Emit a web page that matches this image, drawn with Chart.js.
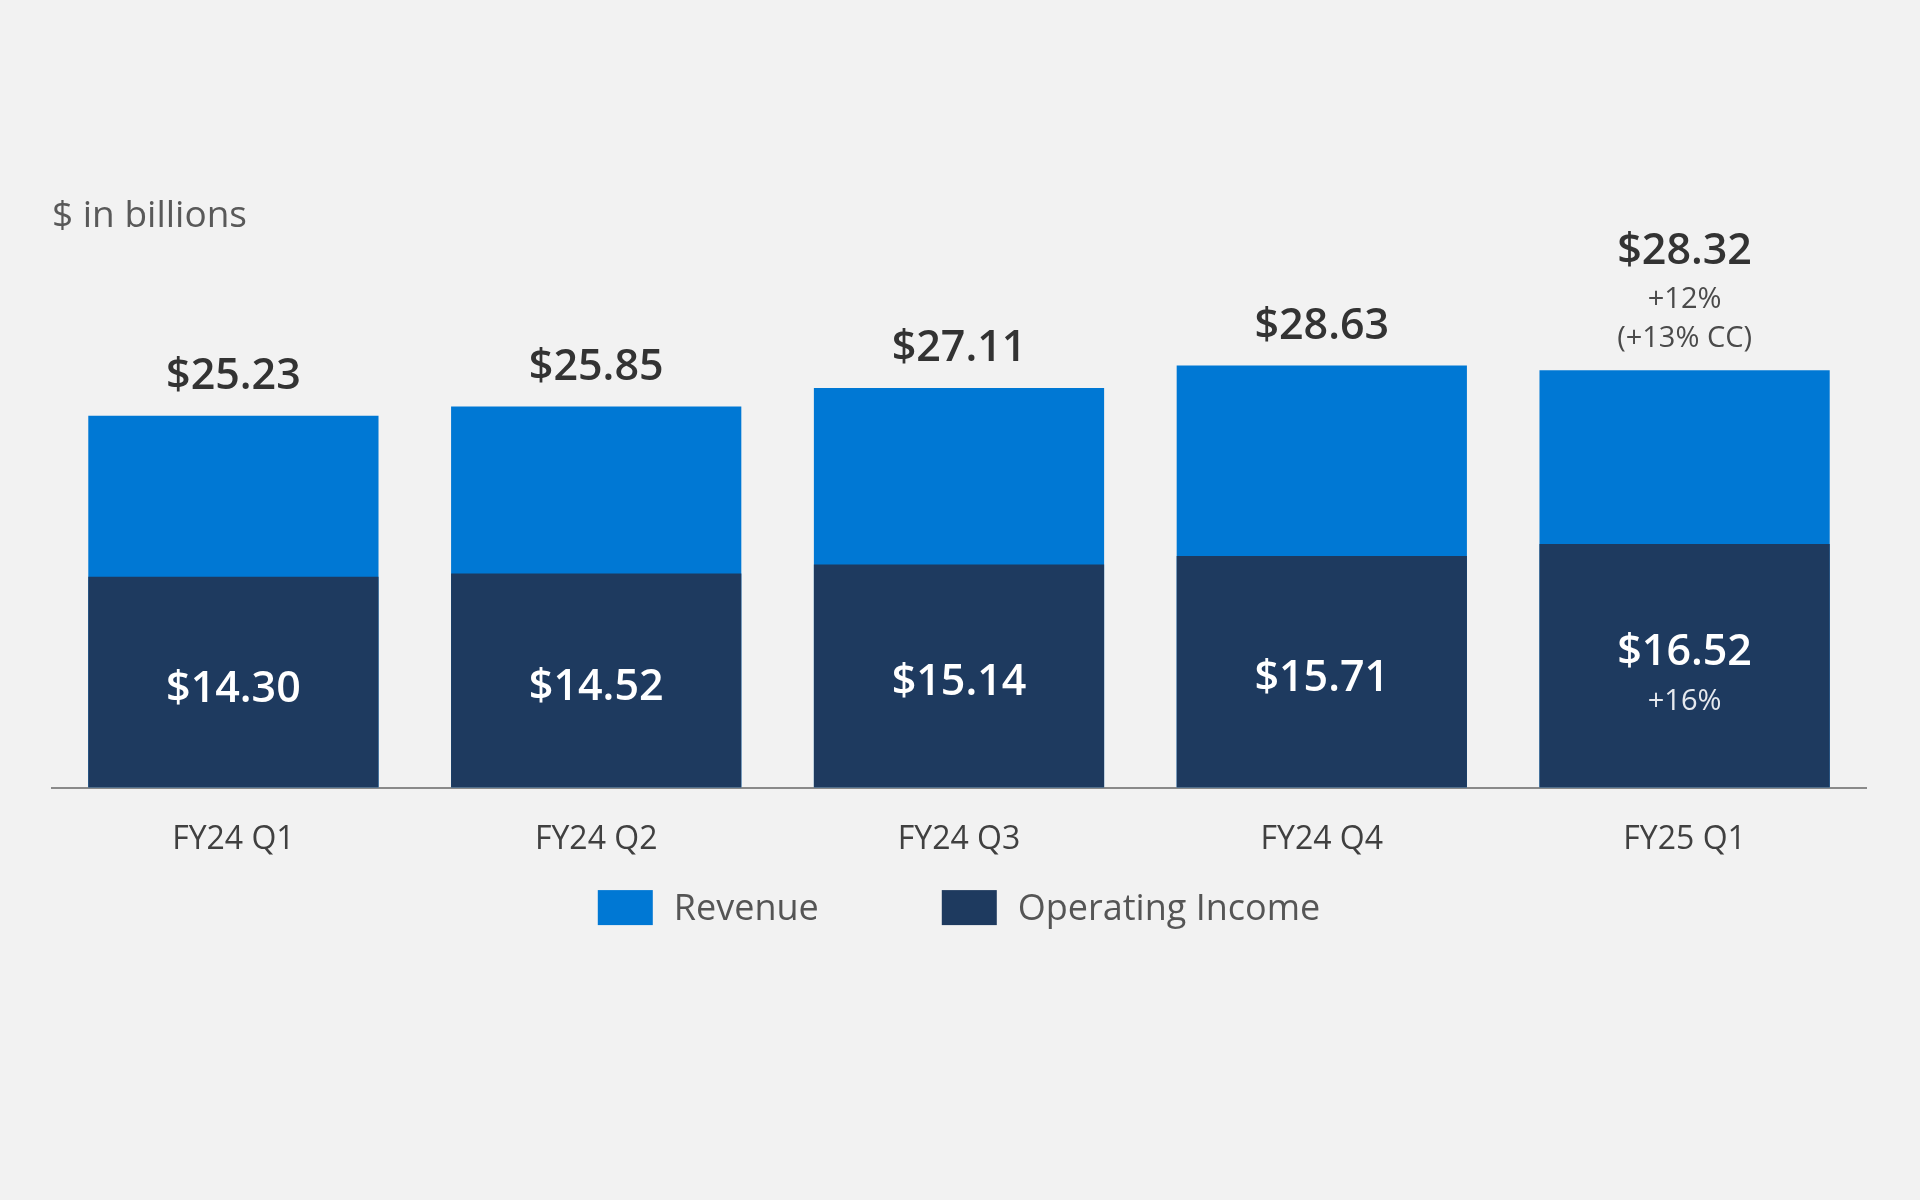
<!DOCTYPE html>
<html>
<head>
<meta charset="utf-8">
<script src="https://cdn.jsdelivr.net/npm/chart.js@4/dist/chart.umd.min.js"></script>
<style>
  html, body { margin: 0; padding: 0; background: #F2F2F2; }
  #wrap { width: 1920px; height: 1200px; position: relative; }
</style>
</head>
<body>
<div id="wrap"><canvas id="c" width="1920" height="1200"></canvas></div>
<script>
// ---- data ----
const categories = ["FY24 Q1", "FY24 Q2", "FY24 Q3", "FY24 Q4", "FY25 Q1"];
const revenue = [25.23, 25.85, 27.11, 28.63, 28.32];
const operatingIncome = [14.30, 14.52, 15.14, 15.71, 16.52];
const revenueNotes = [[], [], [], [], ["+12%", "(+13% CC)"]];
const incomeNotes = [[], [], [], [], ["+16%"]];
const seriesNames = ["Revenue", "Operating Income"];
const unitLabel = "$ in billions";

// ---- styles ----
const FONT = "'Open Sans', 'Noto Sans', sans-serif";
const REV_COLOR = "#0078D4";
const OI_COLOR = "#1E3A5F";

const fmt = v => "$" + v.toFixed(2);

const labelPlugin = {
  id: "barLabels",
  afterDatasetsDraw(chart) {
    const ctx = chart.ctx;
    ctx.save();
    ctx.textAlign = "center";
    ctx.textBaseline = "alphabetic";
    // revenue labels above bars
    const revMeta = chart.getDatasetMeta(0);
    revMeta.data.forEach((bar, i) => {
      const notes = revenueNotes[i];
      const mainSize = 43, subSize = 29;
      let mainCenter;
      if (notes.length) {
        let y = bar.y - 34;
        for (let k = notes.length - 1; k >= 0; k--) {
          ctx.font = "400 " + subSize + "px " + FONT;
          ctx.fillStyle = "#4a4a4a";
          ctx.fillText(notes[k], bar.x, y + 0.357 * subSize);
          if (k > 0) y -= 39;
        }
        mainCenter = y - 49;
      } else {
        mainCenter = bar.y - 42;
      }
      ctx.font = "600 " + mainSize + "px " + FONT;
      ctx.fillStyle = "#333333";
      ctx.fillText(fmt(revenue[i]), bar.x, mainCenter + 0.357 * mainSize);
    });
    // operating income labels inside bars
    const oiMeta = chart.getDatasetMeta(1);
    oiMeta.data.forEach((bar, i) => {
      const notes = incomeNotes[i];
      const mainSize = 43, subSize = 29;
      const mid = (bar.y + bar.base) / 2;
      ctx.fillStyle = "#ffffff";
      if (notes.length) {
        ctx.font = "600 " + mainSize + "px " + FONT;
        ctx.fillText(fmt(operatingIncome[i]), bar.x, mid - 16 + 0.357 * mainSize);
        ctx.font = "400 " + subSize + "px " + FONT;
        ctx.fillStyle = "#e6e9ee";
        notes.forEach((t, k) => {
          ctx.fillText(t, bar.x, mid + 34 + k * 39 + 0.357 * subSize);
        });
      } else {
        ctx.font = "600 " + mainSize + "px " + FONT;
        ctx.fillText(fmt(operatingIncome[i]), bar.x, mid + 4 + 0.357 * mainSize);
      }
    });
    ctx.restore();
  }
};

const legendPlugin = {
  id: "customLegend",
  afterDraw(chart) {
    const ctx = chart.ctx;
    const area = chart.chartArea;
    const boxW = 55, boxH = 35, textGap = 21, itemGap = 123, size = 36;
    ctx.save();
    ctx.font = "400 " + size + "px " + FONT;
    const ds = chart.data.datasets;
    const widths = ds.map(d => boxW + textGap + ctx.measureText(d.label).width);
    const total = widths.reduce((a, b) => a + b, 0) + itemGap * (ds.length - 1);
    let x = (area.left + area.right) / 2 - total / 2;
    const cy = area.bottom + 120;
    ds.forEach((d, i) => {
      ctx.fillStyle = d.backgroundColor;
      ctx.fillRect(x, cy - boxH / 2, boxW, boxH);
      ctx.fillStyle = "#555555";
      ctx.textAlign = "left";
      ctx.textBaseline = "alphabetic";
      ctx.fillText(d.label, x + boxW + textGap, cy + 0.357 * size);
      x += widths[i] + itemGap;
    });
    ctx.restore();
  }
};

new Chart(document.getElementById("c"), {
  type: "bar",
  data: {
    labels: categories,
    datasets: [
      { label: seriesNames[0], data: revenue, backgroundColor: REV_COLOR, order: 2,
        grouped: false, barPercentage: 1, categoryPercentage: 0.8 },
      { label: seriesNames[1], data: operatingIncome, backgroundColor: OI_COLOR, order: 1,
        grouped: false, barPercentage: 1, categoryPercentage: 0.8 }
    ]
  },
  options: {
    responsive: false,
    animation: false,
    devicePixelRatio: 1,
    layout: { padding: { left: 52, right: 54, top: 0, bottom: 308 } },
    plugins: {
      legend: { display: false },
      tooltip: { enabled: false },
      title: {
        display: true, text: unitLabel, align: "start",
        color: "#595959",
        font: { family: FONT, size: 37, weight: "400" },
        padding: { top: 194, bottom: 107 }
      }
    },
    scales: {
      x: {
        grid: { display: false, drawTicks: false },
        border: { display: true, color: "#8a8a8a", width: 2 },
        ticks: { color: "#404040", font: { family: FONT, size: 32 }, padding: 33 }
      },
      y: { display: false, min: 0, max: 30 }
    }
  },
  plugins: [labelPlugin, legendPlugin]
});
</script>
</body>
</html>
